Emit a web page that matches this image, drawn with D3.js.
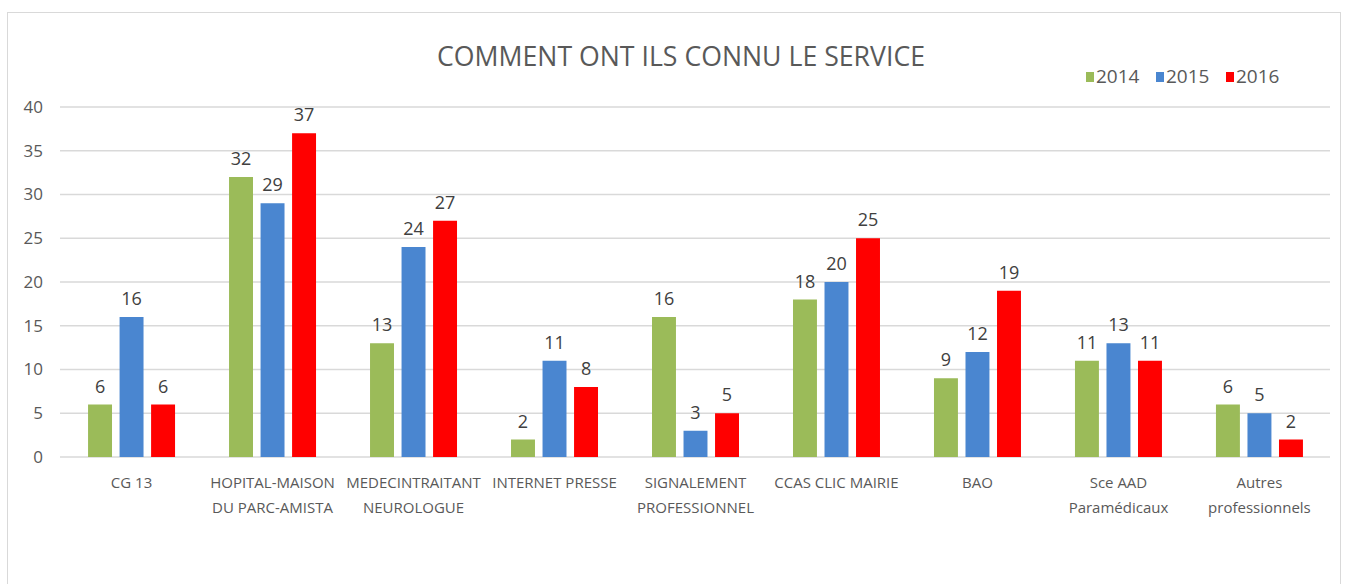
<!DOCTYPE html>
<html lang="fr">
  <head>
    <meta charset="UTF-8" />
    <title>Comment ont ils connu le service</title>
    <style>
      body { margin: 0; background: #fff; }
      svg text { font-family: "Open Sans", "DejaVu Sans", sans-serif; }
    </style>
  </head>
  <body>
    <svg width="1355" height="584"></svg>

    <script src="https://d3js.org/d3.v7.min.js"></script>
    <script>
      // Data
      const categories = [
        ["CG 13"],
        ["HOPITAL-MAISON", "DU PARC-AMISTA"],
        ["MEDECINTRAITANT", "NEUROLOGUE"],
        ["INTERNET PRESSE"],
        ["SIGNALEMENT", "PROFESSIONNEL"],
        ["CCAS CLIC MAIRIE"],
        ["BAO"],
        ["Sce AAD", "Paramédicaux"],
        ["Autres", "professionnels"],
      ];
      const years = ["2014", "2015", "2016"];
      const values2014 = [6, 32, 13, 2, 16, 18, 9, 11, 6];
      const values2015 = [16, 29, 24, 11, 3, 20, 12, 13, 5];
      const values2016 = [6, 37, 27, 8, 5, 25, 19, 11, 2];
      const yTicks = [0, 5, 10, 15, 20, 25, 30, 35, 40];

      const colors = ["#9bbb59", "#4a86d0", "#ff0000"];
      const series = [values2014, values2015, values2016];

      const svg = d3.select("svg");
      const plotLeft = 60, plotRight = 1331, plotTop = 107, plotBottom = 457;

      // outer frame (bottom edge runs off the picture)
      svg.append("rect")
        .attr("x", 7.5).attr("y", 12.5)
        .attr("width", 1333).attr("height", 590)
        .attr("fill", "#fff")
        .attr("stroke", "#d9d9d9");

      const x0 = d3.scaleBand()
        .domain(d3.range(categories.length))
        .range([plotLeft, plotRight])
        .paddingInner(0.383)
        .paddingOuter(0.199);

      const x1 = d3.scaleBand()
        .domain(d3.range(years.length))
        .range([0, x0.bandwidth()])
        .paddingInner(0.24);

      const y = d3.scaleLinear().domain([0, 40]).range([plotBottom, plotTop]);

      // gridlines
      svg.append("g")
        .selectAll("line")
        .data(yTicks)
        .enter()
        .append("line")
        .attr("x1", 60).attr("x2", 1330)
        .attr("y1", (d) => y(d)).attr("y2", (d) => y(d))
        .attr("stroke", "#d9d9d9")
        .attr("stroke-width", 1.5);

      // y axis labels
      const yAxis = d3.axisLeft(y).tickValues(yTicks).tickSize(0).tickPadding(0);
      const gy = svg.append("g")
        .attr("transform", "translate(43,0)")
        .call(yAxis);
      gy.select(".domain").remove();
      gy.selectAll("text")
        .attr("fill", "#595959")
        .style("font-size", "17px");

      // bars
      const groups = svg.append("g")
        .selectAll("g")
        .data(categories.map((c, i) => i))
        .enter()
        .append("g")
        .attr("transform", (i) => `translate(${x0(i)},0)`);

      groups.selectAll("rect")
        .data((i) => series.map((s, k) => ({ k, v: s[i] })))
        .enter()
        .append("rect")
        .attr("x", (d) => x1(d.k))
        .attr("y", (d) => y(d.v))
        .attr("width", x1.bandwidth())
        .attr("height", (d) => y(0) - y(d.v))
        .attr("fill", (d) => colors[d.k]);

      groups.selectAll("text")
        .data((i) => series.map((s, k) => ({ k, v: s[i] })))
        .enter()
        .append("text")
        .attr("x", (d) => x1(d.k) + x1.bandwidth() / 2)
        .attr("y", (d) => y(d.v) - 12)
        .attr("text-anchor", "middle")
        .attr("fill", "#404040")
        .style("font-size", "18px")
        .text((d) => d.v);

      // category labels
      const xl = svg.append("g")
        .selectAll("text")
        .data(categories)
        .enter()
        .append("text")
        .attr("x", (d, i) => x0(i) + x0.bandwidth() / 2)
        .attr("y", 488)
        .attr("text-anchor", "middle")
        .attr("fill", "#595959")
        .style("font-size", "15px");
      xl.selectAll("tspan")
        .data((d) => d)
        .enter()
        .append("tspan")
        .attr("x", function () { return this.parentNode.getAttribute("x"); })
        .attr("dy", (d, j) => (j === 0 ? 0 : 25))
        .text((d) => d);

      // title
      svg.append("text")
        .attr("x", 681)
        .attr("y", 66)
        .attr("text-anchor", "middle")
        .attr("fill", "#595959")
        .attr("textLength", 488)
        .attr("lengthAdjust", "spacingAndGlyphs")
        .style("font-size", "28px")
        .text("COMMENT ONT ILS CONNU LE SERVICE");

      // legend
      const legend = svg.append("g")
        .selectAll("g")
        .data(years)
        .enter()
        .append("g")
        .attr("transform", (d, i) => `translate(${1086 + i * 70},72)`);
      legend.append("rect")
        .attr("width", 8).attr("height", 10)
        .attr("fill", (d, i) => colors[i]);
      legend.append("text")
        .attr("x", 10).attr("y", 11)
        .attr("fill", "#595959")
        .style("font-size", "19px")
        .text((d) => d);
    </script>
  </body>
</html>
